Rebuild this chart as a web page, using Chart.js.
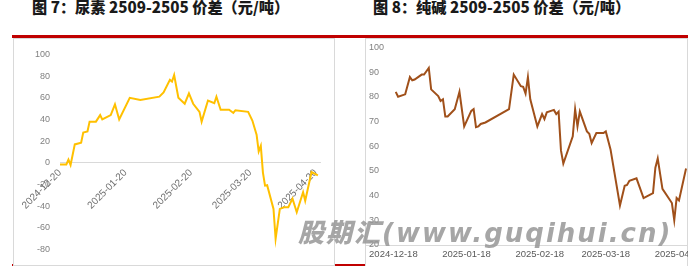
<!DOCTYPE html>
<html>
<head>
<meta charset="utf-8">
<script src="https://cdn.jsdelivr.net/npm/chart.js@4.4.1/dist/chart.umd.min.js"></script>
<style>
  body { margin: 0; background: #fff; width: 698px; height: 266px; position: relative; overflow: hidden; }
  .title { position: absolute; top: -2px; font: 900 15.2px/16px "Noto Sans CJK SC", sans-serif; color: #1a1a1a; white-space: nowrap; }
  .rule { position: absolute; background: #c00000; }
  .panel { position: absolute; background: #fff; border: 1px solid #d9d9d9; box-sizing: border-box; }
  canvas { position: absolute; }
  .mark { position: absolute; left: 298px; top: 220px; font: italic 900 26px/26px "DejaVu Sans", "Noto Sans CJK SC", sans-serif; letter-spacing: 2px; color: rgba(150,150,150,0.85); white-space: nowrap; }
</style>
</head>
<body>
<div class="title" style="left:32px">图 7：尿素 2509-2505 价差（元/吨）</div>
<div class="title" style="left:373px">图 8：纯碱 2509-2505 价差（元/吨）</div>
<div class="rule" style="left:12px; top:35px; width:676px; height:3px"></div>
<div class="rule" style="left:12px; top:264px; width:676px; height:2px"></div>
<div class="panel" style="left:13px; top:38px; width:322px; height:228px"></div>
<div class="panel" style="left:365px; top:38px; width:323px; height:230px"></div>
<canvas id="urea" width="320" height="226" style="left:14px; top:39px"></canvas>
<canvas id="soda" width="322" height="227" style="left:366px; top:39px"></canvas>
<div class="mark">股期汇(www.guqihui.cn)</div>
<script>
// 尿素 2509-2505 价差
const ureaDates = [
  "2024-12-20", "2024-12-23", "2024-12-24", "2024-12-25", "2024-12-27", "2024-12-30", "2024-12-31",
  "2025-01-02", "2025-01-03", "2025-01-06", "2025-01-08", "2025-01-09", "2025-01-13", "2025-01-15",
  "2025-01-17", "2025-01-22", "2025-01-27", "2025-02-05", "2025-02-07", "2025-02-10", "2025-02-11",
  "2025-02-12", "2025-02-14", "2025-02-17", "2025-02-19", "2025-02-21", "2025-02-24", "2025-02-25",
  "2025-02-28", "2025-03-03", "2025-03-04", "2025-03-06", "2025-03-10", "2025-03-12", "2025-03-13",
  "2025-03-19", "2025-03-21", "2025-03-23", "2025-03-24", "2025-03-25", "2025-03-26", "2025-03-27",
  "2025-03-28", "2025-03-31", "2025-04-01", "2025-04-03", "2025-04-05", "2025-04-07", "2025-04-09",
  "2025-04-11", "2025-04-14", "2025-04-15", "2025-04-18", "2025-04-21"
];
const ureaSpread = [
  -1.5, -1.5, 3, -2, 17, 18.5, 28,
  29, 38, 38, 44, 40, 44, 54,
  40, 60, 58, 61, 65, 76.5, 75,
  81, 60, 54.5, 64, 54.5, 47, 38,
  57.5, 55, 61, 49, 49, 46, 48.5,
  47, 39, 26, 10.5, 15.7, -9, -21,
  -20.6, -42.5, -70, -42.5, -41, -41, -33,
  -45.5, -27, -35, -8.5, -11.5
];
const ureaTicks = ["2024-12-20", "2025-01-20", "2025-02-20", "2025-03-20", "2025-04-20"];

// 纯碱 2509-2505 价差
const sodaDates = [
  "2024-12-19", "2024-12-20", "2024-12-23", "2024-12-25", "2024-12-26", "2024-12-27", "2024-12-30",
  "2024-12-31", "2025-01-02", "2025-01-03", "2025-01-06", "2025-01-07", "2025-01-08", "2025-01-09",
  "2025-01-10", "2025-01-13", "2025-01-15", "2025-01-17", "2025-01-20", "2025-01-21", "2025-01-22",
  "2025-01-23", "2025-01-24", "2025-01-26", "2025-02-05", "2025-02-07", "2025-02-10", "2025-02-11",
  "2025-02-12", "2025-02-13", "2025-02-14", "2025-02-17", "2025-02-19", "2025-02-20", "2025-02-21",
  "2025-02-24", "2025-02-25", "2025-02-26", "2025-02-27", "2025-02-28", "2025-03-04", "2025-03-05",
  "2025-03-06", "2025-03-07", "2025-03-10", "2025-03-11", "2025-03-12", "2025-03-14", "2025-03-17",
  "2025-03-18", "2025-03-20", "2025-03-24", "2025-03-26", "2025-03-27", "2025-03-28", "2025-03-31",
  "2025-04-03", "2025-04-07", "2025-04-08", "2025-04-09", "2025-04-11", "2025-04-15", "2025-04-16",
  "2025-04-17", "2025-04-18", "2025-04-21"
];
const sodaSpread = [
  82, 80, 81, 88, 86.7, 87, 89,
  89, 91.7, 83, 80.3, 78.3, 79, 72,
  72, 75, 82, 68, 74.3, 75, 67.7,
  68, 69, 69.6, 75, 89, 84.3, 84,
  81.3, 88, 79, 68, 73, 71, 73.7,
  74.7, 73, 74, 58.3, 53, 64, 75,
  68, 74, 66, 65, 61.3, 65.3, 65.3,
  66, 58.7, 36, 44, 44.3, 46, 47,
  39, 41, 51.3, 55, 42.7, 37, 30,
  39, 38, 51
];
const sodaTicks = ["2024-12-18", "2025-01-18", "2025-02-18", "2025-03-18", "2025-04-18"];

const tickFont = '"Liberation Sans", Arial, sans-serif';

function dayOf(date, base) {
  return (Date.parse(date) - Date.parse(base)) / 86400000;
}

function points(dates, values, base) {
  return dates.map((d, i) => ({ x: dayOf(d, base), y: values[i] }));
}

function tickLabel(ticks, base) {
  return v => ticks.find(t => dayOf(t, base) === v) || "";
}

// 左图：尿素
const ureaBase = ureaTicks[0];
new Chart(document.getElementById("urea"), {
  type: "line",
  data: {
    datasets: [{
      data: points(ureaDates, ureaSpread, ureaBase),
      borderColor: "#FFC000",
      borderWidth: 2,
      pointRadius: 0,
      tension: 0
    }]
  },
  options: {
    responsive: false,
    animation: false,
    layout: { padding: { left: 0, right: 14, top: 14, bottom: 14 } },
    plugins: { legend: { display: false }, tooltip: { enabled: false } },
    scales: {
      x: {
        type: "linear",
        position: { y: 0 },
        min: 0,
        max: 123,
        grid: { display: false, drawTicks: false },
        border: { display: true, color: "#d9d9d9", width: 1 },
        afterBuildTicks: s => { s.ticks = ureaTicks.map(t => ({ value: dayOf(t, ureaBase) })); },
        afterFit: s => { s.paddingLeft = 0; s.paddingRight = 0; },
        ticks: {
          autoSkip: false,
          minRotation: 45,
          maxRotation: 45,
          padding: 4,
          color: "#6e6e6e",
          font: { size: 10, family: tickFont },
          callback: tickLabel(ureaTicks, ureaBase)
        }
      },
      y: {
        min: -80,
        max: 100,
        grid: { display: false, drawTicks: false },
        border: { display: false },
        afterFit: s => { s.width = 46; },
        ticks: { stepSize: 20, padding: 10, color: "#808080", font: { size: 9, family: tickFont } }
      }
    }
  }
});

// 右图：纯碱
const sodaBase = sodaTicks[0];
new Chart(document.getElementById("soda"), {
  type: "line",
  data: {
    datasets: [{
      data: points(sodaDates, sodaSpread, sodaBase),
      borderColor: "#A0501A",
      borderWidth: 2,
      pointRadius: 0,
      tension: 0
    }]
  },
  options: {
    responsive: false,
    animation: false,
    layout: { padding: { left: 0, right: 1, top: 6, bottom: 0 } },
    plugins: { legend: { display: false }, tooltip: { enabled: false } },
    scales: {
      x: {
        type: "linear",
        min: -11.6,
        max: 124.4,
        grid: { display: false, drawTicks: false },
        border: { display: true, color: "#d9d9d9", width: 1 },
        afterBuildTicks: s => { s.ticks = sodaTicks.map(t => ({ value: dayOf(t, sodaBase) })); },
        afterFit: s => { s.height = 21; s.paddingLeft = 0; s.paddingRight = 0; },
        ticks: {
          autoSkip: false,
          minRotation: 0,
          maxRotation: 0,
          padding: 4,
          color: "#595959",
          font: { size: 9.5, family: tickFont },
          callback: tickLabel(sodaTicks, sodaBase)
        }
      },
      y: {
        min: 20,
        max: 100,
        grid: { display: false, drawTicks: false },
        border: { display: false },
        afterFit: s => { s.width = 0; },
        ticks: { stepSize: 10, mirror: true, padding: 3, color: "#808080", font: { size: 9, family: tickFont } }
      }
    }
  }
});
</script>
</body>
</html>
